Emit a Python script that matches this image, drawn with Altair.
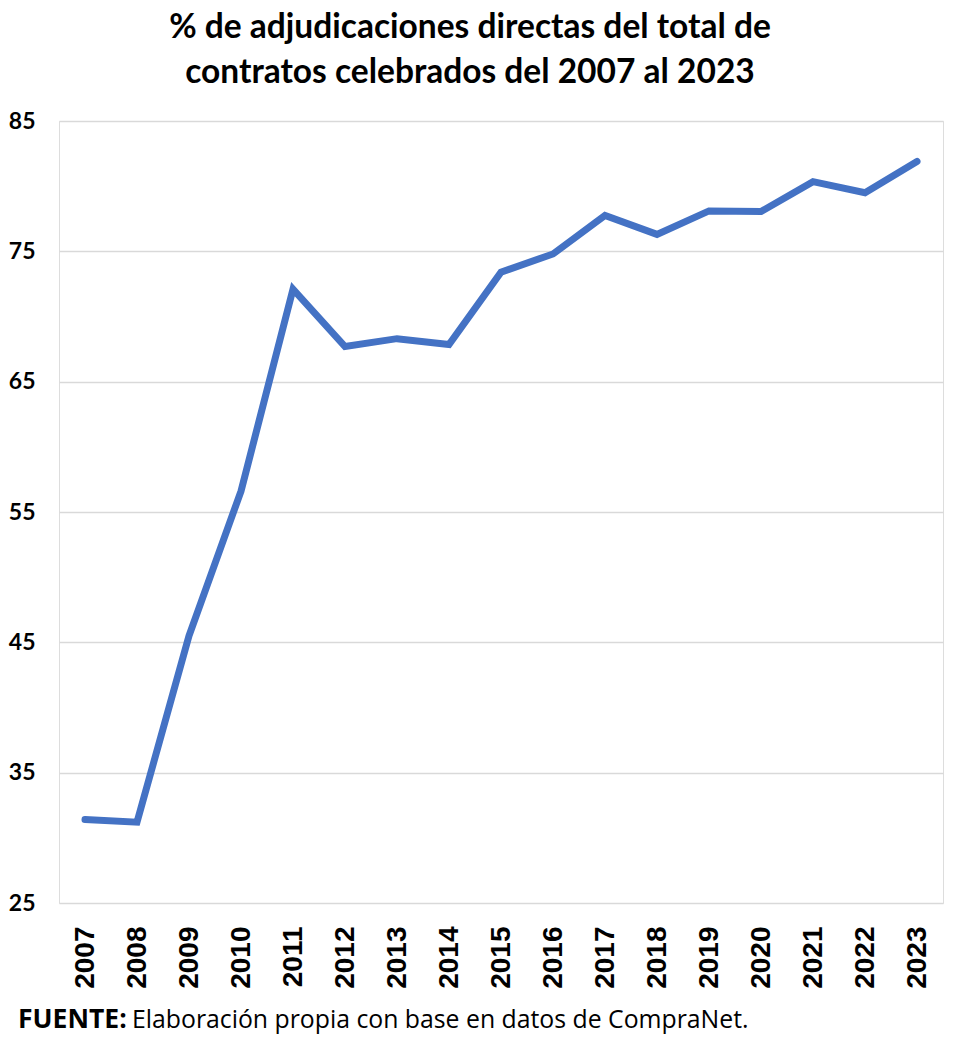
import altair as alt
import pandas as pd

years = [str(y) for y in range(2007, 2024)]
values = [31.4, 31.2, 45.5, 56.6, 72.1, 67.7, 68.3, 67.85, 73.4, 74.8,
          77.75, 76.3, 78.1, 78.05, 80.35, 79.5, 81.9]
y_ticks = [25, 35, 45, 55, 65, 75, 85]
title_lines = ["% de adjudicaciones directas del total de",
               "contratos celebrados del 2007 al 2023"]
footer_bold = "FUENTE:"
footer_text = "Elaboración propia con base en datos de CompraNet."

df = pd.DataFrame({"year": years, "value": values})

W, H = 884, 782

line = alt.Chart(df).mark_line(
    color="#4472C4", strokeWidth=7, strokeCap="round"
).encode(
    x=alt.X("year:O", sort=years,
            scale=alt.Scale(type="point", padding=0.5),
            axis=alt.Axis(title=None, labelAngle=-90, labelFont="Liberation Sans",
                          labelFontWeight="bold", labelFontSize=28, labelColor="#000000",
                          labelPadding=23, ticks=False, domain=False, grid=False)),
    y=alt.Y("value:Q",
            scale=alt.Scale(domain=[25, 85], nice=False, zero=False),
            axis=alt.Axis(title=None, values=y_ticks, labelFont="Lato",
                          labelFontWeight="bold", labelFontSize=23, labelColor="#000000",
                          labelPadding=24, ticks=False, domain=False,
                          gridColor="#d9d9d9", gridWidth=1.5)),
)

foot_df = pd.DataFrame({"b": [footer_bold], "t": [footer_text]})
foot1 = alt.Chart(foot_df).mark_text(
    font="Open Sans", fontWeight="bold", fontSize=26.5, align="left",
    baseline="alphabetic", color="#000000"
).encode(text="b:N", x=alt.value(-41), y=alt.value(907))
foot2 = alt.Chart(foot_df).mark_text(
    font="Open Sans", fontSize=24.8, align="left",
    baseline="alphabetic", color="#000000"
).encode(text="t:N", x=alt.value(73), y=alt.value(907))

chart = alt.layer(line, foot1, foot2).properties(
    width=W, height=H,
    title=alt.Title(title_lines, font="Lato", fontSize=33.5, fontWeight="bold",
                    color="#000000", anchor="middle", dx=-31, offset=20,
                    lineHeight=45),
    autosize=alt.AutoSizeParams(type="none"),
    padding={"left": 51, "top": 113, "right": 9, "bottom": 145},
).configure_view(stroke=None).configure(background="#ffffff")

chart.save("out.html", embed_options={"renderer": "svg", "actions": False})
